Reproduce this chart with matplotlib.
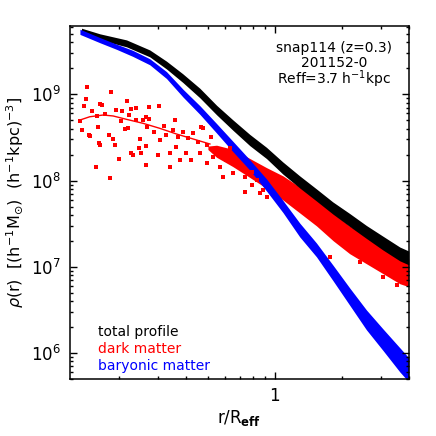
import numpy as np
import matplotlib
matplotlib.use('Agg')
import matplotlib.pyplot as plt
from matplotlib.ticker import LogLocator, NullFormatter

plt.rcParams['font.family'] = 'DejaVu Sans'
plt.rcParams['mathtext.fontset'] = 'dejavusans'

# Values (log10 r/Reff, log10 rho), band half widths in dex

# total profile (black cloud)
tot_logr = [-0.867, -0.785, -0.665, -0.561, -0.486, -0.413, -0.336, -0.261, -0.188, -0.112,
            -0.037, 0.036, 0.112, 0.187, 0.260, 0.336, 0.411, 0.484, 0.561, 0.601]
tot_logrho = [9.737, 9.667, 9.591, 9.475, 9.340, 9.189, 9.015, 8.818, 8.644, 8.470,
              8.320, 8.146, 7.984, 7.833, 7.683, 7.543, 7.404, 7.277, 7.149, 7.103]
tot_spread = [0.03, 0.035, 0.04, 0.04, 0.045, 0.05, 0.055, 0.055, 0.06, 0.065,
              0.065, 0.07, 0.07, 0.07, 0.07, 0.075, 0.075, 0.08, 0.08, 0.08]

# baryonic matter (blue cloud)
bar_logr = [-0.874, -0.785, -0.710, -0.637, -0.561, -0.486, -0.411, -0.336, -0.261, -0.187,
            -0.112, -0.037, 0.037, 0.112, 0.187, 0.262, 0.336, 0.411, 0.486, 0.561, 0.601]
bar_logrho = [9.725, 9.629, 9.552, 9.475, 9.378, 9.224, 9.012, 8.818, 8.606, 8.393,
              8.181, 7.949, 7.698, 7.427, 7.196, 6.926, 6.655, 6.385, 6.153, 5.921, 5.805]
bar_spread = [0.03, 0.03, 0.03, 0.035, 0.035, 0.04, 0.045, 0.05, 0.055, 0.06,
              0.06, 0.07, 0.07, 0.08, 0.08, 0.09, 0.10, 0.115, 0.125, 0.14, 0.14]

# dark matter, dense part (red cloud)
dm_logr = [-0.300, -0.261, -0.188, -0.112, -0.037, 0.037, 0.112, 0.187, 0.262, 0.336,
           0.411, 0.486, 0.561, 0.601]
dm_logrho = [8.380, 8.340, 8.262, 8.146, 8.030, 7.914, 7.775, 7.625, 7.462, 7.312,
             7.196, 7.080, 6.964, 6.929]
dm_spread = [0.02, 0.07, 0.10, 0.11, 0.12, 0.14, 0.15, 0.15, 0.16, 0.16,
             0.16, 0.16, 0.16, 0.16]

# dark matter, sparse individual points
dm_pts_logr = [-0.874, -0.865, -0.855, -0.846, -0.842, -0.835, -0.830, -0.821, -0.801, -0.798,
               -0.791, -0.789, -0.782, -0.782, -0.773, -0.761, -0.743, -0.740, -0.735, -0.725,
               -0.716, -0.710, -0.698, -0.692, -0.685, -0.670, -0.661, -0.658, -0.653, -0.647,
               -0.647, -0.638, -0.623, -0.623, -0.611, -0.604, -0.602, -0.593, -0.578, -0.577,
               -0.577, -0.573, -0.566, -0.564, -0.543, -0.526, -0.519, -0.516, -0.499, -0.486,
               -0.471, -0.471, -0.456, -0.448, -0.441, -0.434, -0.426, -0.411, -0.396, -0.389,
               -0.374, -0.366, -0.344, -0.336, -0.329, -0.322, -0.306, -0.306, -0.284, -0.277,
               -0.261, -0.247, -0.232, -0.217, -0.202, -0.187, -0.157, -0.135, -0.135, -0.104,
               -0.104, -0.082, -0.067, -0.052, -0.037, 0.247, 0.381, 0.486, 0.546]
dm_pts_logrho = [8.694, 8.586, 8.864, 8.946, 9.081, 8.528, 8.513, 8.810, 8.158, 8.752,
                 8.618, 8.432, 8.888, 8.416, 8.873, 8.775, 8.528, 8.030, 9.023, 8.486,
                 8.409, 8.818, 8.254, 8.694, 8.810, 8.598, 8.919, 8.606, 8.760, 8.826,
                 8.316, 8.297, 8.841, 8.702, 8.381, 8.482, 8.316, 8.699, 8.733, 8.401,
                 8.177, 8.625, 8.714, 8.849, 8.567, 8.300, 8.864, 8.470, 8.636, 8.528,
                 8.316, 8.161, 8.586, 8.702, 8.393, 8.509, 8.239, 8.567, 8.316, 8.490,
                 8.239, 8.548, 8.451, 8.316, 8.625, 8.606, 8.413, 8.200, 8.509, 8.277,
                 8.355, 8.161, 8.045, 8.239, 8.374, 8.085, 8.143, 8.045, 7.871, 8.103,
                 7.949, 8.007, 7.853, 7.891, 7.813, 7.118, 7.057, 6.886, 6.790]

# dark matter fitted curve
fit_logr = [-0.874, -0.830, -0.770, -0.725, -0.665, -0.591, -0.516, -0.441, -0.366, -0.291]
fit_logrho = [8.702, 8.740, 8.760, 8.749, 8.710, 8.664, 8.606, 8.540, 8.482, 8.424]

annot = ['snap114 (z=0.3)', '201152-0', r'Reff=3.7 h$^{-1}$kpc']
labels = ['total profile', 'dark matter', 'baryonic matter']
colors = ['black', '#ff0000', '#0000ff']


def band(ax, logr, logrho, spread, color):
    r = 10 ** np.array(logr)
    c = np.array(logrho)
    s = np.array(spread)
    ax.fill_between(r, 10 ** (c - s), 10 ** (c + s), color=color, lw=0)


fig = plt.figure(figsize=(4.36, 4.36), dpi=100)
fig.patch.set_facecolor('white')
ax = fig.add_axes([69.5 / 436, 57 / 436, 339.5 / 436, 353 / 436])

# red first, then black, blue on top
band(ax, dm_logr, dm_logrho, dm_spread, colors[1])
ax.plot(10 ** np.array(dm_pts_logr), 10 ** np.array(dm_pts_logrho), 's',
        color=colors[1], ms=2.3, mew=0)
ax.plot(10 ** np.array(fit_logr), 10 ** np.array(fit_logrho), '-', color=colors[1], lw=1)
band(ax, tot_logr, tot_logrho, tot_spread, colors[0])
band(ax, bar_logr, bar_logrho, bar_spread, colors[2])

ax.set_xscale('log')
ax.set_yscale('log')
ax.set_xlim(0.12, 4.0)
ax.set_ylim(5e5, 6.2e9)

ax.set_xticks([1])
ax.set_xticklabels(['1'])
ax.xaxis.set_minor_locator(LogLocator(base=10, subs=np.arange(2, 10)))
ax.xaxis.set_minor_formatter(NullFormatter())
ax.yaxis.set_minor_locator(LogLocator(base=10, subs=np.arange(2, 10), numticks=20))
ax.yaxis.set_minor_formatter(NullFormatter())

ax.tick_params(which='both', direction='in', top=True, right=True, width=1)
ax.tick_params(which='major', length=5, labelsize=12, pad=6)
ax.tick_params(which='minor', length=2.5)
for sp in ax.spines.values():
    sp.set_linewidth(1.1)

ax.set_xlabel(r'r/R$_{\mathbf{eff}}$', fontsize=12, labelpad=2)
ax.set_ylabel(r'$\rho$(r)  [(h$^{-1}$M$_{\odot}$)  (h$^{-1}$kpc)$^{-3}$]', fontsize=11.5, labelpad=4)

for txt, yy in zip(annot, [0.938, 0.895, 0.848]):
    ax.text(0.78, yy, txt, transform=ax.transAxes, ha='center', va='center', fontsize=10)

for lbl, col, yy in zip(labels, colors, [0.133, 0.085, 0.036]):
    ax.text(0.083, yy, lbl, transform=ax.transAxes, ha='left', va='center',
            fontsize=10, color=col)

plt.savefig('out.png', dpi=100, facecolor='white')
